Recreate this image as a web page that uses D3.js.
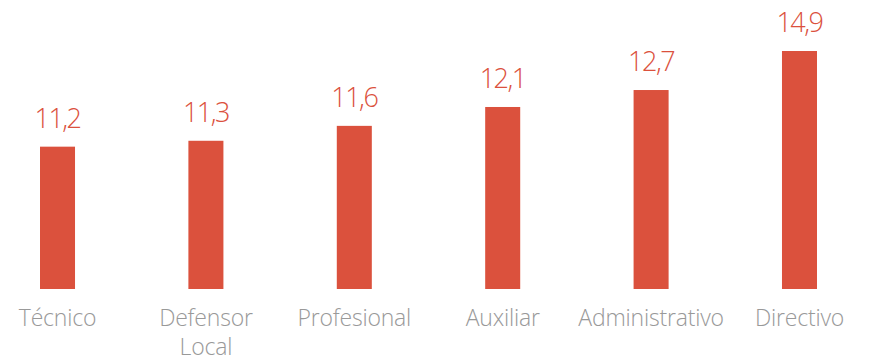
<!DOCTYPE html>
<html>
<head>
<meta charset="utf-8">
<script src="https://cdn.jsdelivr.net/npm/d3@7"></script>
<style>
  html, body { margin: 0; padding: 0; background: #ffffff; }
  svg { display: block; }
</style>
</head>
<body>
<svg id="chart" width="879" height="361"></svg>
<script>
// Categories and their values
const categories = ["Técnico", "Defensor Local", "Profesional", "Auxiliar", "Administrativo", "Directivo"];
const values = [11.2, 11.3, 11.6, 12.1, 12.7, 14.9];
const valueLabels = ["11,2", "11,3", "11,6", "12,1", "12,7", "14,9"];

// The value axis is compressed: bar heights grow logarithmically above this baseline
const baseline = 10.2;

const svg = d3.select("#chart");
const barColor = "#DB513D";
const labelColor = "#999999";

const plot = { left: 40, right: 817, top: 51, bottom: 289 };

const x = d3.scaleBand()
  .domain(categories)
  .range([plot.left, plot.right])
  .paddingInner(0.764)
  .paddingOuter(0);

const y = d3.scaleLog()
  .domain([0.1, 4.7])
  .range([plot.bottom, plot.top]);

const data = categories.map((c, i) => ({ cat: c, value: values[i], label: valueLabels[i] }));

svg.selectAll("rect.bar")
  .data(data)
  .join("rect")
  .attr("class", "bar")
  .attr("x", d => x(d.cat))
  .attr("width", x.bandwidth())
  .attr("y", d => y(d.value - baseline))
  .attr("height", d => plot.bottom - y(d.value - baseline))
  .attr("fill", barColor);

svg.selectAll("text.value")
  .data(data)
  .join("text")
  .attr("class", "value")
  .attr("x", d => x(d.cat) + x.bandwidth() / 2)
  .attr("y", d => y(d.value - baseline) - 19)
  .attr("text-anchor", "middle")
  .attr("font-family", "'Open Sans', sans-serif")
  .attr("font-weight", 300)
  .attr("font-size", 27)
  .attr("letter-spacing", -1.5)
  .attr("fill", barColor)
  .text(d => d.label);

// Category axis along the bottom, labels wrapped onto separate lines
const xAxis = d3.axisBottom(x).tickSize(0).tickPadding(0);
const axisG = svg.append("g")
  .attr("transform", `translate(0, ${plot.bottom})`)
  .call(xAxis);
axisG.select(".domain").remove();
axisG.selectAll(".tick text").remove();
axisG.selectAll(".tick").each(function(d) {
  const words = d.split(" ");
  const t = d3.select(this).append("text")
    .attr("text-anchor", "middle")
    .attr("font-family", "'Open Sans', sans-serif")
    .attr("font-weight", 300)
    .attr("font-size", 23)
    .attr("letter-spacing", -0.2)
    .attr("fill", labelColor);
  words.forEach((w, i) => {
    t.append("tspan")
      .attr("x", 0)
      .attr("y", 37 + i * 29)
      .text(w);
  });
});
</script>
</body>
</html>
